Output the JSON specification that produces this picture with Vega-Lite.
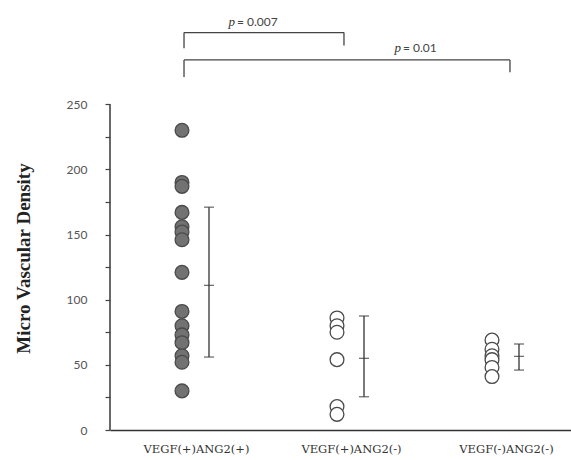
{
  "$schema": "https://vega.github.io/schema/vega-lite/v6.json",
  "width": 461,
  "height": 430,
  "autosize": {"type": "none"},
  "padding": {"left": 110, "top": 0, "right": 0, "bottom": 30},
  "background": "white",
  "config": {"view": {"stroke": null}, "font": "Liberation Serif"},
  "datasets": {
    "points": [
      {"g": 1, "group": "VEGF(+)ANG2(+)", "mvd": 230},
      {"g": 1, "group": "VEGF(+)ANG2(+)", "mvd": 190},
      {"g": 1, "group": "VEGF(+)ANG2(+)", "mvd": 187},
      {"g": 1, "group": "VEGF(+)ANG2(+)", "mvd": 167},
      {"g": 1, "group": "VEGF(+)ANG2(+)", "mvd": 156},
      {"g": 1, "group": "VEGF(+)ANG2(+)", "mvd": 152},
      {"g": 1, "group": "VEGF(+)ANG2(+)", "mvd": 146},
      {"g": 1, "group": "VEGF(+)ANG2(+)", "mvd": 121},
      {"g": 1, "group": "VEGF(+)ANG2(+)", "mvd": 91},
      {"g": 1, "group": "VEGF(+)ANG2(+)", "mvd": 80},
      {"g": 1, "group": "VEGF(+)ANG2(+)", "mvd": 73},
      {"g": 1, "group": "VEGF(+)ANG2(+)", "mvd": 67},
      {"g": 1, "group": "VEGF(+)ANG2(+)", "mvd": 57},
      {"g": 1, "group": "VEGF(+)ANG2(+)", "mvd": 52},
      {"g": 1, "group": "VEGF(+)ANG2(+)", "mvd": 30},
      {"g": 2, "group": "VEGF(+)ANG2(-)", "mvd": 86},
      {"g": 2, "group": "VEGF(+)ANG2(-)", "mvd": 80},
      {"g": 2, "group": "VEGF(+)ANG2(-)", "mvd": 75},
      {"g": 2, "group": "VEGF(+)ANG2(-)", "mvd": 54},
      {"g": 2, "group": "VEGF(+)ANG2(-)", "mvd": 18},
      {"g": 2, "group": "VEGF(+)ANG2(-)", "mvd": 12},
      {"g": 3, "group": "VEGF(-)ANG2(-)", "mvd": 69},
      {"g": 3, "group": "VEGF(-)ANG2(-)", "mvd": 62},
      {"g": 3, "group": "VEGF(-)ANG2(-)", "mvd": 57},
      {"g": 3, "group": "VEGF(-)ANG2(-)", "mvd": 54},
      {"g": 3, "group": "VEGF(-)ANG2(-)", "mvd": 48},
      {"g": 3, "group": "VEGF(-)ANG2(-)", "mvd": 41}
    ],
    "errbars": [
      {"g": 1, "group": "VEGF(+)ANG2(+)", "mean": 111, "lo": 56, "hi": 171},
      {"g": 2, "group": "VEGF(+)ANG2(-)", "mean": 55, "lo": 25.5, "hi": 87.5},
      {"g": 3, "group": "VEGF(-)ANG2(-)", "mean": 56.5, "lo": 46, "hi": 66}
    ],
    "brackets": [
      {"x1": 1.013, "x2": 2.045, "top": 305, "leftEnd": 293, "rightEnd": 295, "tx": 1.355, "ty": 313, "rest": "= 0.007"},
      {"x1": 1.013, "x2": 3.116, "top": 284, "leftEnd": 271, "rightEnd": 274.5, "tx": 2.426, "ty": 293, "rest": "= 0.01"}
    ]
  },
  "layer": [
    {
      "data": {"name": "points"},
      "mark": {"type": "circle", "size": 190, "stroke": "#4a4a4a", "strokeWidth": 1.3, "opacity": 1},
      "encoding": {
        "x": {
          "field": "g", "type": "quantitative",
          "scale": {"domain": [0.5355, 3.5097], "nice": false, "zero": false},
          "axis": {
            "values": [1, 2, 3],
            "labelExpr": "datum.value == 1 ? 'VEGF(+)ANG2(+)' : datum.value == 2 ? 'VEGF(+)ANG2(-)' : 'VEGF(-)ANG2(-)'",
            "ticks": false, "grid": false, "title": null,
            "domainColor": "#333", "domainWidth": 1.6,
            "labelFont": "DejaVu Serif", "labelFontSize": 11.5, "labelColor": "#333",
            "labelPadding": 13, "labelOffset": 14
          }
        },
        "y": {
          "field": "mvd", "type": "quantitative",
          "scale": {"domain": [0, 330], "nice": false, "zero": true},
          "axis": {
            "values": [0, 25, 50, 75, 100, 125, 150, 175, 200, 225, 250],
            "labelExpr": "datum.value % 50 == 0 ? datum.label : ''",
            "domain": false, "grid": false,
            "tickSize": 5, "tickColor": "#444", "tickWidth": 1.2,
            "labelPadding": 18, "labelFont": "Lato", "labelFontSize": 12, "labelColor": "#555",
            "title": "Micro Vascular Density",
            "titleFont": "Liberation Serif", "titleFontSize": 19, "titleFontWeight": "bold", "titleColor": "#222",
            "titleX": -77, "titleY": 258
          }
        },
        "fill": {
          "field": "group", "type": "nominal",
          "scale": {"domain": ["VEGF(+)ANG2(+)", "VEGF(+)ANG2(-)", "VEGF(-)ANG2(-)"], "range": ["#727272", "#ffffff", "#ffffff"]},
          "legend": null
        }
      }
    },
    {
      "data": {"values": [{}]},
      "mark": {"type": "rule", "color": "#444", "strokeWidth": 1.6},
      "encoding": {
        "x": {"datum": 0.5355, "type": "quantitative"},
        "y": {"datum": 0, "type": "quantitative"},
        "y2": {"datum": 250}
      }
    },
    {
      "data": {"name": "errbars"},
      "mark": {"type": "rule", "xOffset": 27, "color": "#333", "strokeWidth": 1.3},
      "encoding": {
        "x": {"field": "g", "type": "quantitative"},
        "y": {"field": "lo", "type": "quantitative"},
        "y2": {"field": "hi"}
      }
    },
    {
      "data": {"name": "errbars"},
      "transform": [{"fold": ["lo", "mean", "hi"], "as": ["stat", "val"]}],
      "mark": {"type": "tick", "orient": "horizontal", "xOffset": 27, "size": 10, "thickness": 1.3, "color": "#333"},
      "encoding": {
        "x": {"field": "g", "type": "quantitative"},
        "y": {"field": "val", "type": "quantitative"}
      }
    },
    {
      "data": {"name": "brackets"},
      "mark": {"type": "rule", "color": "#444", "strokeWidth": 1.3},
      "encoding": {
        "x": {"field": "x1", "type": "quantitative"},
        "x2": {"field": "x2"},
        "y": {"field": "top", "type": "quantitative"}
      }
    },
    {
      "data": {"name": "brackets"},
      "mark": {"type": "rule", "color": "#444", "strokeWidth": 1.3},
      "encoding": {
        "x": {"field": "x1", "type": "quantitative"},
        "y": {"field": "top", "type": "quantitative"},
        "y2": {"field": "leftEnd"}
      }
    },
    {
      "data": {"name": "brackets"},
      "mark": {"type": "rule", "color": "#444", "strokeWidth": 1.3},
      "encoding": {
        "x": {"field": "x2", "type": "quantitative"},
        "y": {"field": "top", "type": "quantitative"},
        "y2": {"field": "rightEnd"}
      }
    },
    {
      "data": {"name": "brackets"},
      "mark": {"type": "text", "text": "p", "font": "Liberation Serif", "fontStyle": "italic", "fontSize": 13, "align": "right", "baseline": "middle", "dx": -2, "color": "#333"},
      "encoding": {
        "x": {"field": "tx", "type": "quantitative"},
        "y": {"field": "ty", "type": "quantitative"}
      }
    },
    {
      "data": {"name": "brackets"},
      "mark": {"type": "text", "font": "Lato", "fontSize": 12, "align": "left", "baseline": "middle", "dx": 0, "color": "#444"},
      "encoding": {
        "x": {"field": "tx", "type": "quantitative"},
        "y": {"field": "ty", "type": "quantitative"},
        "text": {"field": "rest"}
      }
    }
  ]
}
